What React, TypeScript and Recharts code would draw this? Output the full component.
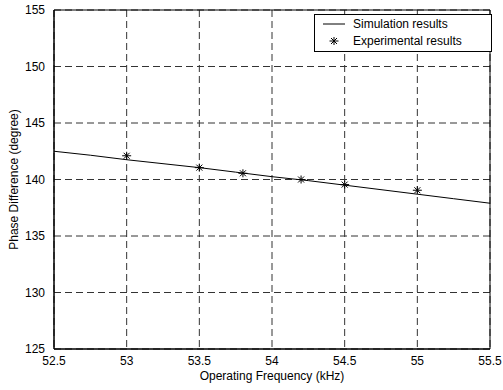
import { ScatterChart, Scatter, XAxis, YAxis, CartesianGrid, ReferenceArea } from 'recharts'

// simulated curve, frequency (kHz) vs phase difference (degree)
const simFreq = [52.5, 52.75, 53, 53.25, 53.5, 53.75, 54, 54.25, 54.5, 54.75, 55, 55.25, 55.5]
const simPhase = [142.5, 142.15, 141.75, 141.4, 141.05, 140.65, 140.25, 139.9, 139.5, 139.1, 138.7, 138.3, 137.9]

// measured points
const expFreq = [53, 53.5, 53.8, 54.2, 54.5, 55]
const expPhase = [142.1, 141.05, 140.55, 140.0, 139.55, 139.05]

const xTicks = [52.5, 53, 53.5, 54, 54.5, 55, 55.5]
const yTicks = [125, 130, 135, 140, 145, 150, 155]

const simData = simFreq.map((x, i) => ({ x, y: simPhase[i] }))
const expData = expFreq.map((x, i) => ({ x, y: expPhase[i] }))

const font = 'Liberation Sans, Arial, sans-serif'

function Star(props: any) {
  const { cx, cy } = props
  return (
    <g stroke="#000" strokeWidth={1}>
      <line x1={cx - 4.5} y1={cy} x2={cx + 4.5} y2={cy} />
      <line x1={cx} y1={cy - 4} x2={cx} y2={cy + 4} />
      <line x1={cx - 3} y1={cy - 3} x2={cx + 3} y2={cy + 3} />
      <line x1={cx - 3} y1={cy + 3} x2={cx + 3} y2={cy - 3} />
    </g>
  )
}

function LegendBox() {
  return (
    <svg width={179} height={39} style={{ display: 'block' }}>
      <rect x={0.5} y={0.5} width={177} height={37} fill="#fff" stroke="#000" />
      <line x1={9} y1={10} x2={31} y2={10} stroke="#000" />
      <text x={39} y={14} fontSize={12} fontFamily={font}>Simulation results</text>
      <Star cx={20} cy={27} />
      <text x={39} y={31} fontSize={12} fontFamily={font}>Experimental results</text>
    </svg>
  )
}

export default function App() {
  return (
    <div style={{ position: 'absolute', left: 0, top: 0, width: 503, height: 390, background: '#fff' }}>
      <ScatterChart width={503} height={390} margin={{ top: 10, right: 13, left: 0, bottom: 0 }}>
        <CartesianGrid stroke="#333" strokeDasharray="7 4" />
        <XAxis
          dataKey="x"
          type="number"
          domain={[52.5, 55.5]}
          ticks={xTicks}
          height={41}
          tickLine={false}
          axisLine={{ stroke: '#000' }}
          tick={{ fontSize: 12, fill: '#000', fontFamily: font }}
          tickMargin={1}
          label={{ value: 'Operating Frequency (kHz)', position: 'insideBottom', offset: 10, fontSize: 12, fill: '#000', fontFamily: font }}
        />
        <YAxis
          dataKey="y"
          type="number"
          domain={[125, 155]}
          ticks={yTicks}
          width={54}
          tickLine={false}
          axisLine={{ stroke: '#000' }}
          tick={{ fontSize: 12, fill: '#000', fontFamily: font }}
          tickMargin={3}
          label={{ value: 'Phase Difference (degree)', angle: -90, position: 'insideLeft', offset: 14, style: { textAnchor: 'middle' }, fontSize: 12, fill: '#000', fontFamily: font }}
        />
        <ReferenceArea x1={52.5} x2={55.5} y1={125} y2={155} fill="none" stroke="#000" strokeWidth={1} />
        <Scatter
          name="Simulation results"
          data={simData}
          line={{ stroke: '#000', strokeWidth: 1 }}
          lineType="joint"
          shape={() => <g />}
          isAnimationActive={false}
        />
        <Scatter
          name="Experimental results"
          data={expData}
          shape={<Star />}
          isAnimationActive={false}
        />
      </ScatterChart>
      <div style={{ position: 'absolute', left: 314, top: 14 }}>
        <LegendBox />
      </div>
    </div>
  )
}
